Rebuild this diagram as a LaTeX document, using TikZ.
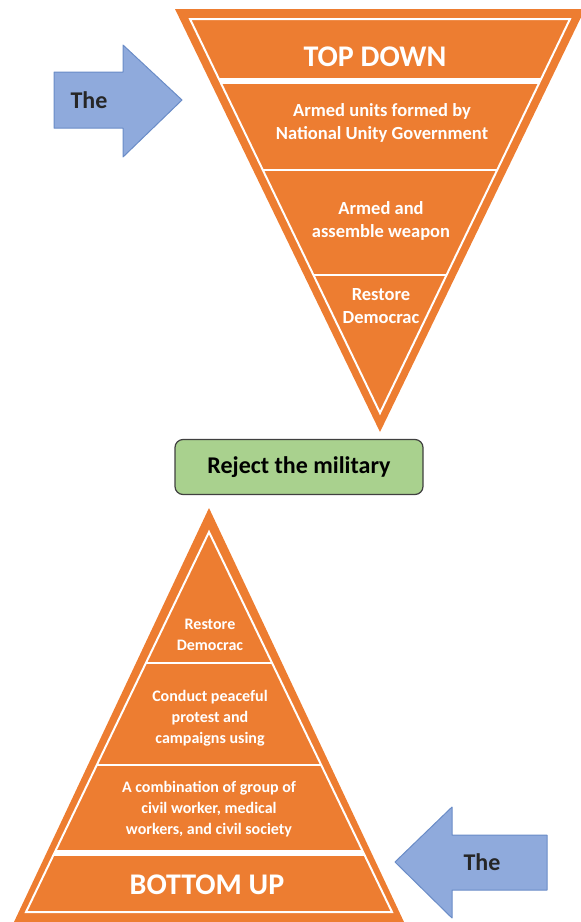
\documentclass[tikz,border=0pt]{standalone}
\usepackage{fontspec}
\setmainfont{Carlito}
\definecolor{bandorange}{HTML}{ED7D31}
\definecolor{arrowblue}{HTML}{8FAADC}
\definecolor{arrowedge}{HTML}{6A8CC7}
\definecolor{boxgreen}{HTML}{A9D18E}

\begin{document}
\begin{tikzpicture}
[x=1pt,y=-1pt,
  band text/.style={text=white,align=center,font=\bfseries\fontsize{18.5}{23}\selectfont},
  small band text/.style={text=white,align=center,font=\bfseries\fontsize{16}{21}\selectfont},
  title text/.style={text=white,font=\bfseries\fontsize{30}{34}\selectfont},
  gap line/.style={white,line width=2pt},
  wide gap/.style={white,line width=6pt},
  big arrow/.style={fill=arrowblue,draw=arrowedge,line width=1pt,line join=round},
  arrow text/.style={text=black!85,font=\bfseries\fontsize{24}{27}\selectfont},
  reject box/.style={fill=boxgreen,draw=black!75,line width=1.2pt,rounded corners=8pt,
    minimum width=248pt,minimum height=55pt,font=\bfseries\fontsize{24}{27}\selectfont}]
  \useasboundingbox (0,0) rectangle (581,922);

  % top down pyramid
  \fill[bandorange] (175,9) -- (585,9) -- (380,432) -- cycle;
  \draw[gap line] (190,19) -- (570,19) -- (380,413) -- cycle;
  \begin{scope}
    \clip (190,19) -- (570,19) -- (380,413) -- cycle;
    \draw[wide gap] (150,81) -- (600,81);
    \draw[gap line] (150,170) -- (600,170);
    \draw[gap line] (150,275) -- (600,275);
  \end{scope}

  \node[title text] (topdown) at 	(375,57) {TOP DOWN};
  \node[band text] (nug) at 		(382,123) {Armed units formed by\\National Unity Government};
  \node[band text] (weapon) at 		(381,221) {Armed and\\assemble weapon};
  \node[band text] (restoretop) at 	(381,306) {Restore\\Democrac};

  \draw[big arrow] (54,72) -- (123,72) -- (123,45) -- (182,100) -- (123,157) -- (123,128) -- (54,128) -- cycle;
  \node[arrow text] (thetop) at 	(89,100) {The};

  \node[reject box] (reject) at 	(299,467) {Reject the military};

  % bottom up pyramid
  \fill[bandorange] (209,508) -- (404,922) -- (14,922) -- cycle;
  \draw[gap line] (209,532) -- (392,912) -- (26,912) -- cycle;
  \begin{scope}
    \clip (209,532) -- (392,912) -- (26,912) -- cycle;
    \draw[gap line] (0,663) -- (420,663);
    \draw[gap line] (0,765) -- (420,765);
    \draw[wide gap] (0,853) -- (420,853);
  \end{scope}

  \node[small band text] (restorebot) at 	(210,635) {Restore\\Democrac};
  \node[small band text] (protest) at 		(210,718) {Conduct peaceful\\protest and\\campaigns using};
  \node[small band text] (combination) at 	(209,809) {A combination of group of\\civil worker, medical\\workers, and civil society};
  \node[title text] (bottomup) at 		(207,885) {BOTTOM UP};

  \draw[big arrow] (547,835) -- (452,835) -- (452,807) -- (395,862) -- (452,918) -- (452,890) -- (547,890) -- cycle;
  \node[arrow text] (thebot) at 	(482,862) {The};

\end{tikzpicture}
\end{document}
